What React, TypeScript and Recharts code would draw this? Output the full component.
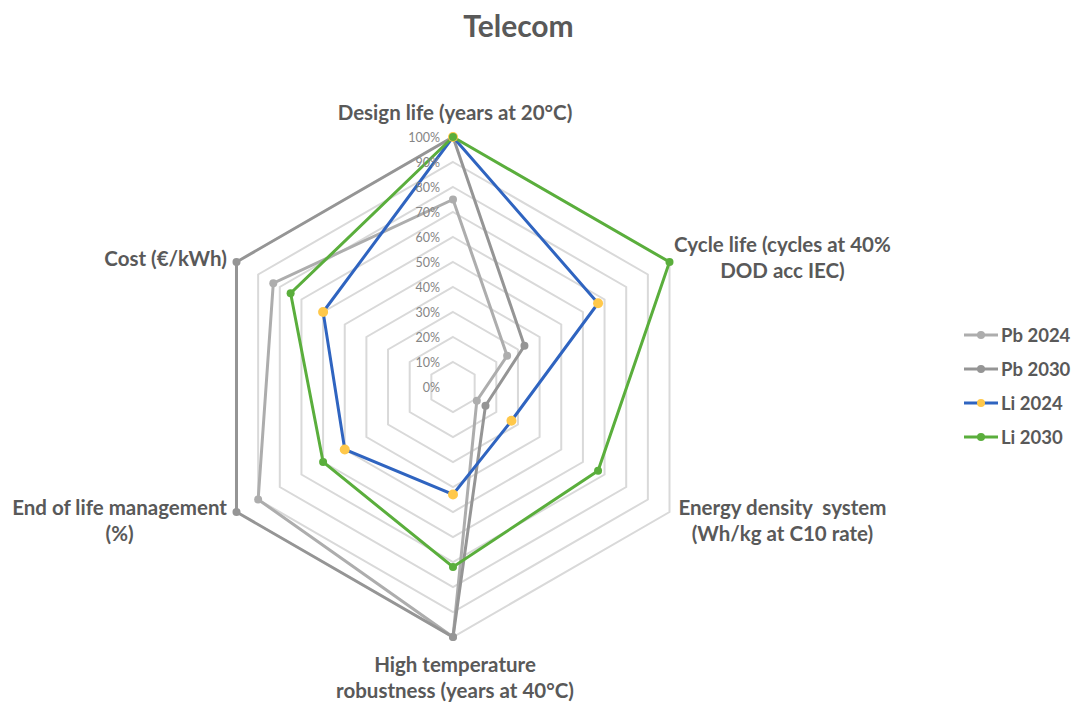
import React from 'react';
import { RadarChart, Radar, PolarGrid, PolarAngleAxis, PolarRadiusAxis, Legend } from 'recharts';

// Axis keys, clockwise from the top
const categories = ['design', 'cycle', 'energy', 'hightemp', 'endoflife', 'cost'];

// Axis labels, split over lines
const categoryLines: string[][] = [
  ['Design life (years at 20°C)'],
  ['Cycle life (cycles at 40%', 'DOD acc IEC)'],
  ['Energy density  system', '(Wh/kg at C10 rate)'],
  ['High temperature', 'robustness (years at 40°C)'],
  ['End of life management', '(%)'],
  ['Cost (€/kWh)'],
];

// Series values, in % of the best value on each axis
const pb2024 = [75, 25, 11, 100, 90, 83];
const pb2030 = [100, 33, 15, 100, 100, 100];
const li2024 = [100, 67, 27, 43, 50, 60];
const li2030 = [100, 100, 67, 72, 60, 75];

const seriesNames = ['Pb 2024', 'Pb 2030', 'Li 2024', 'Li 2030'];
const radiusTicks = [0, 10, 20, 30, 40, 50, 60, 70, 80, 90, 100];

const rows = categories.map((c, i) => ({
  axis: c,
  pb2024: pb2024[i],
  pb2030: pb2030[i],
  li2024: li2024[i],
  li2030: li2030[i],
}));

const FONT = 'Lato, "Liberation Sans", sans-serif';
const TEXT = '#595959';

const series = [
  { key: 'pb2024', name: seriesNames[0], color: '#ADADAD', dot: '#ADADAD', r: 4 },
  { key: 'pb2030', name: seriesNames[1], color: '#959595', dot: '#959595', r: 4 },
  { key: 'li2024', name: seriesNames[2], color: '#2F64C0', dot: '#FFC84A', r: 5 },
  { key: 'li2030', name: seriesNames[3], color: '#5AAE3C', dot: '#5AAE3C', r: 4 },
];

// Label placement relative to each axis end: [dx, dy of first line]
const labelOffsets: [number, number][] = [
  [2, -17],
  [106, -14],
  [106, -9],
  [2, 19],
  [-110, -9],
  [-64, 0],
];

const AngleTick = (props: any) => {
  const { x, y, payload } = props;
  const idx = props.index ?? categories.indexOf(payload.value);
  const lines = categoryLines[idx] || [];
  const [dx, dy] = labelOffsets[idx] || [0, 0];
  return (
    <g>
      {lines.map((ln, j) => (
        <text
          key={j}
          x={x + dx}
          y={y + dy + j * 26}
          textAnchor="middle"
          dominantBaseline="central"
          fontFamily={FONT}
          fontWeight={700}
          fontSize={20.5}
          fill={TEXT}
          style={{ whiteSpace: 'pre' }}
        >
          {ln}
        </text>
      ))}
    </g>
  );
};

const RadiusTick = (props: any) => {
  const { x, y, payload } = props;
  return (
    <text
      x={x - 13}
      y={y}
      textAnchor="end"
      dominantBaseline="central"
      fontFamily={FONT}
      fontSize={12.5}
      fill="#858585"
    >
      {`${payload.value}%`}
    </text>
  );
};

const LegendContent = () => (
  <div style={{ fontFamily: FONT, fontWeight: 700, fontSize: 18.5, color: TEXT }}>
    {series.map((s) => (
      <div key={s.key} style={{ display: 'flex', alignItems: 'center', height: 34 }}>
        <svg width={36} height={12} style={{ marginRight: 2 }}>
          <line x1={1} y1={6} x2={35} y2={6} stroke={s.color} strokeWidth={3} />
          <circle cx={18} cy={6} r={4} fill={s.dot} />
        </svg>
        <span>{s.name}</span>
      </div>
    ))}
  </div>
);

export default function App() {
  return (
    <div style={{ position: 'absolute', left: 0, top: 0, width: 1077, height: 702, background: '#fff' }}>
      <div
        style={{
          position: 'absolute',
          left: 0,
          width: 1037,
          top: 7,
          textAlign: 'center',
          fontFamily: FONT,
          fontWeight: 700,
          fontSize: 30,
          color: TEXT,
        }}
      >
        Telecom
      </div>
      <RadarChart
        width={1077}
        height={702}
        cx={453}
        cy={387}
        outerRadius={250}
        data={rows}
        margin={{ top: 0, right: 0, bottom: 0, left: 0 }}
      >
        <PolarGrid
          gridType="polygon"
          radialLines={false}
          stroke="#D9D9D9"
          strokeWidth={2}
          polarRadius={radiusTicks.map((t) => (t / 100) * 250)}
        />
        <PolarAngleAxis dataKey="axis" tick={<AngleTick />} tickLine={false} axisLine={false} />
        <PolarRadiusAxis
          angle={90}
          type="number"
          domain={[0, 100]}
          ticks={radiusTicks as any}
          tickCount={11}
          axisLine={false}
          tickLine={false}
          tick={<RadiusTick />}
        />
        {series.map((s) => (
          <Radar
            key={s.key}
            name={s.name}
            dataKey={s.key}
            stroke={s.color}
            strokeWidth={3}
            fill="none"
            fillOpacity={0}
            dot={{ r: s.r, fill: s.dot, stroke: s.dot, strokeWidth: 0, fillOpacity: 1 }}
            isAnimationActive={false}
          />
        ))}
        <Legend
          layout="vertical"
          align="right"
          verticalAlign="middle"
          content={<LegendContent />}
          wrapperStyle={{ left: 963, top: 318, width: 114, right: 'auto' }}
        />
      </RadarChart>
    </div>
  );
}
